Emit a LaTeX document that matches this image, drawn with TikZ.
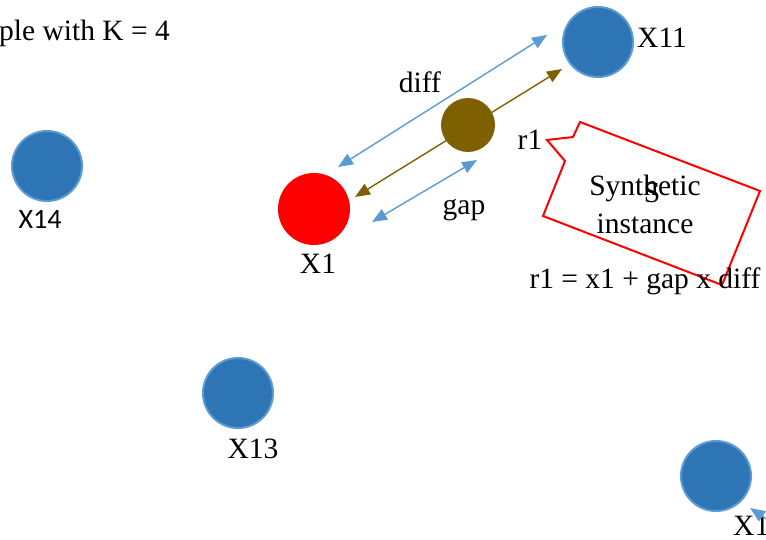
\documentclass[tikz,border=0pt]{standalone}
\usepackage{fontspec}
\setmainfont{Liberation Serif}
\newfontfamily\calibri{Carlito}
\usetikzlibrary{arrows.meta}
\definecolor{ptblue}{RGB}{46,117,182}
\definecolor{ptedge}{RGB}{91,155,213}
\definecolor{mud}{RGB}{127,96,0}

\begin{document}
\begin{tikzpicture}[x=1pt, y=-1pt,
  pt/.style={circle, fill=ptblue, draw=ptedge, line width=2pt, minimum size=70pt, inner sep=0pt},
  txt/.style={font=\fontsize{29.5}{34}\selectfont, inner sep=0pt},
  dbl/.style={{Triangle[length=15pt,width=12pt]}-{Triangle[length=15pt,width=12pt]}, line width=1.4pt}]
  \useasboundingbox (0,0) rectangle (766,540);
  \clip (0,0) rectangle (766,540);

  % data points
  \node[pt] (x11) at (598,42) {};
  \node[pt] (x14) at (47,166) {};
  \node[pt] (x13) at (238,393) {};
  \node[pt] (x12) at (716,476) {};
  \node[circle, fill=red, minimum size=72pt, inner sep=0pt] (x1) at (314,209) {};
  \node[circle, fill=mud, minimum size=54pt, inner sep=0pt] (r1pt) at (468,125) {};

  % labels
  \node[txt, anchor=west] (title) at (-1,33) {ple with K = 4};
  \node[txt, anchor=west] (x11lbl) at (637,38) {X11};
  \node[txt, font=\calibri\fontsize{28}{32}\selectfont] (x14lbl) at (40,219) {X14};
  \node[txt] (x1lbl) at (318,264) {X1};
  \node[txt] (x13lbl) at (253,449) {X13};
  \node[txt, anchor=west] (x12lbl) at (733,526) {X1};

  % arrows
  \coordinate (d1) at (338,167);
  \coordinate (d2) at (547,35);
  \coordinate (b1) at (355,197);
  \coordinate (b2) at (562,69);
  \coordinate (g1) at (372,222);
  \coordinate (g2) at (477,160);
  \draw[dbl, ptedge] (d1) -- (d2);
  \draw[dbl, mud] (b1) -- (b2);
  \draw[dbl, ptedge] (g1) -- (g2);
  \node[txt] (diff) at (420,82) {diff};
  \node[txt] (gap) at (464,210) {gap};

  % corner arrow
  \coordinate (c1) at (795,538);
  \coordinate (c2) at (750,508);
  \draw[ptedge, line width=1.4pt, -{Triangle[length=15pt,width=12pt]}] (c1) -- (c2);

  % callout
  \draw[red, line width=2pt, fill=white, line join=miter]
    (580,122) -- (760,191) -- (722,285) -- (543,216) -- (565,161)
    -- (547,140) -- (573,137) -- cycle;
  \node[txt] (r1) at (530,140) {r1};
  \node[txt] (syn) at (645,188) {Synthetic};
  \node[txt] (synS) at (652,193) {S};
  \node[txt] (inst) at (645,224) {instance};
  \node[txt] (form) at (645,281) {r1 = x1 + gap x diff};
\end{tikzpicture}
\end{document}
